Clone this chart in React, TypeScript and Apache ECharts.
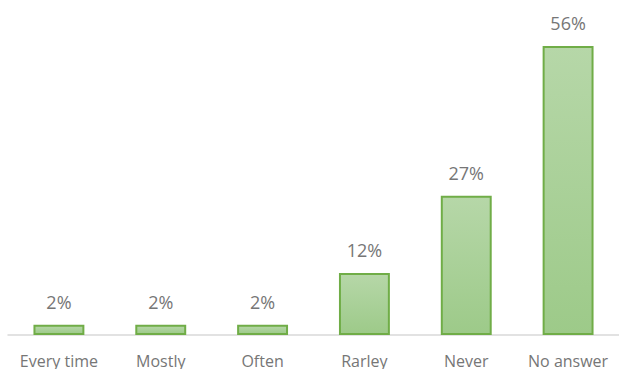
import React, { useEffect, useRef } from "react";
import * as echarts from "echarts";

const categories = ["Every time", "Mostly", "Often", "Rarley", "Never", "No answer"];
const values = [2, 2, 2, 12, 27, 56];

export default function App() {
  const ref = useRef<HTMLDivElement>(null);
  useEffect(() => {
    const chart = echarts.init(ref.current!, null, { renderer: "svg" });
    chart.setOption({
      animation: false,
      grid: { left: 8, right: -5, top: 46, bottom: 33, containLabel: false },
      xAxis: {
        type: "category",
        data: categories,
        axisLine: { lineStyle: { color: "#d9d9d9", width: 1.5 } },
        axisTick: { show: false },
        axisLabel: {
          color: "#767676",
          fontSize: 16,
          fontFamily: "'Open Sans', sans-serif",
          margin: 18,
          interval: 0,
        },
      },
      yAxis: {
        type: "value",
        min: 0,
        max: 56,
        show: false,
        splitLine: { show: false },
      },
      series: [
        {
          type: "bar",
          data: values,
          barWidth: "50%",
          itemStyle: {
            color: new echarts.graphic.LinearGradient(0, 0, 0, 1, [
              { offset: 0, color: "#b6d7a8" },
              { offset: 1, color: "#9dca89" },
            ]),
            borderColor: "#70ad47",
            borderWidth: 2,
          },
          label: {
            show: true,
            position: "top",
            distance: 14,
            formatter: "{c}%",
            color: "#767676",
            fontSize: 18,
            fontFamily: "'Open Sans', sans-serif",
          },
        },
      ],
    });
    return () => chart.dispose();
  }, []);
  return <div ref={ref} style={{ width: 619, height: 369, position: "absolute", left: 0, top: 0 }} />;
}
